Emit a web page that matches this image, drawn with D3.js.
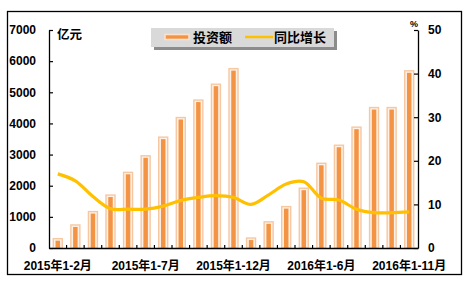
<!DOCTYPE html>
<html>
<head>
<meta charset="utf-8">
<script src="https://cdn.jsdelivr.net/npm/d3@7"></script>
<style>
  body { margin: 0; background: #fff; }
  text { font-family: "Liberation Sans", Arial, "Noto Sans CJK SC", sans-serif; font-weight: bold; fill: #000; }
</style>
</head>
<body>
<div id="vis"></div>
<script>
// categories (months, cumulative)
var months = ['2015年1-2月','2015年1-3月','2015年1-4月','2015年1-5月','2015年1-6月','2015年1-7月',
              '2015年1-8月','2015年1-9月','2015年1-10月','2015年1-11月','2015年1-12月',
              '2016年1-2月','2016年1-3月','2016年1-4月','2016年1-5月','2016年1-6月',
              '2016年1-7月','2016年1-8月','2016年1-9月','2016年1-10月','2016年1-11月'];
// investment, 亿元
var invest = [300, 740, 1170, 1700, 2430, 2960, 3560, 4190, 4750, 5260, 5760,
              320, 840, 1330, 1920, 2720, 3300, 3880, 4510, 4510, 5690];
// year-on-year growth, %
var growth = [17.0, 15.4, 11.8, 9.0, 8.9, 8.9, 9.6, 10.9, 11.6, 12.0, 11.6,
              10.0, 12.2, 14.7, 15.2, 11.4, 11.0, 8.9, 8.1, 8.1, 8.3];
var leftTicks = [0, 1000, 2000, 3000, 4000, 5000, 6000, 7000];
var rightTicks = [0, 10, 20, 30, 40, 50];
var shownLabels = ['2015年1-2月','2015年1-7月','2015年1-12月','2016年1-6月','2016年1-11月'];

var svg = d3.select('#vis').append('svg')
    .attr('width', 469)
    .attr('height', 285);

// outer frame
svg.append('rect')
  .attr('x', 7.5).attr('y', 11.5)
  .attr('width', 454).attr('height', 263)
  .attr('fill', 'none').attr('stroke', '#000').attr('stroke-width', 1.3);

var pL = 49, pR = 418, pT = 30, pB = 248;

var x = d3.scaleBand().domain(months).range([pL, pR]).padding(0);
var y = d3.scaleLinear().domain([0, 7000]).range([pB, pT]);
var y2 = d3.scaleLinear().domain([0, 50]).range([pB, pT]);

// bars: pale outer box with orange core
var bw = 9, cw = 4.5;
var bars = svg.append('g');
bars.selectAll('rect.outer').data(invest).enter().append('rect')
  .attr('class', 'outer')
  .attr('x', (d, i) => x(months[i]) + x.bandwidth() / 2 - bw / 2)
  .attr('y', d => y(d))
  .attr('width', bw)
  .attr('height', d => pB - y(d))
  .attr('fill', '#fdf0e6')
  .attr('stroke', '#f6c8a2')
  .attr('stroke-width', 1.4);
bars.selectAll('rect.inner').data(invest).enter().append('rect')
  .attr('class', 'inner')
  .attr('x', (d, i) => x(months[i]) + x.bandwidth() / 2 - cw / 2)
  .attr('y', d => y(d) + 2)
  .attr('width', cw)
  .attr('height', d => Math.max(0, pB - y(d) - 2))
  .attr('fill', '#f39445');

// growth line
var line = d3.line()
  .x((d, i) => x(months[i]) + x.bandwidth() / 2)
  .y(d => y2(d))
  .curve(d3.curveCatmullRom.alpha(0.5));
svg.append('path')
  .datum(growth)
  .attr('d', line)
  .attr('fill', 'none')
  .attr('stroke', '#ffc000')
  .attr('stroke-width', 3.2);

// left axis
var yAxis = d3.axisLeft(y).tickValues(leftTicks).tickFormat(d3.format('d'))
  .tickSizeInner(-4).tickSizeOuter(0).tickPadding(13);
var gl = svg.append('g').attr('transform', 'translate(' + pL + ',0)').call(yAxis);
// right axis
var y2Axis = d3.axisRight(y2).tickValues(rightTicks).tickFormat(d3.format('d'))
  .tickSizeInner(-4).tickSizeOuter(0).tickPadding(10);
var gr = svg.append('g').attr('transform', 'translate(' + pR + ',0)').call(y2Axis);

[gl, gr].forEach(function(g) {
  g.select('.domain').attr('stroke', '#000').attr('stroke-width', 1.3);
  g.selectAll('.tick line').attr('stroke', '#000').attr('stroke-width', 1.2);
  g.selectAll('.tick text').style('font-size', '12px').attr('fill', '#000');
});

// bottom axis
var xAxis = d3.axisBottom(x).tickSize(0).tickPadding(13)
  .tickFormat(d => shownLabels.indexOf(d) >= 0 ? d : '');
var gb = svg.append('g').attr('transform', 'translate(0,' + pB + ')').call(xAxis);
gb.select('.domain').attr('stroke', '#000').attr('stroke-width', 1.3);
gb.selectAll('.tick text').style('font-size', '12px').attr('fill', '#000');
// band boundary ticks
gb.selectAll('line.bt').data(months.slice(1)).enter().append('line')
  .attr('class', 'bt')
  .attr('x1', d => x(d)).attr('x2', d => x(d))
  .attr('y1', -3).attr('y2', 1)
  .attr('stroke', '#000').attr('stroke-width', 1.2);

// units
svg.append('text').attr('x', 57).attr('y', 39).style('font-size', '12.5px').text('亿元');
svg.append('text').attr('x', 410).attr('y', 27).style('font-size', '9px').text('%');

// legend
var lg = svg.append('g').attr('transform', 'translate(151,28)');
lg.append('rect').attr('x', 3).attr('y', 3).attr('width', 183).attr('height', 19).attr('fill', '#8c8c8c');
lg.append('rect').attr('x', 0).attr('y', 0).attr('width', 183).attr('height', 19).attr('fill', '#d9d9d9');
lg.append('rect').attr('x', 14).attr('y', 6.5).attr('width', 24).attr('height', 5)
  .attr('fill', '#f39445').attr('stroke', '#fbe0cb').attr('stroke-width', 1.6);
lg.append('text').attr('x', 42).attr('y', 14).style('font-size', '13px').text('投资额');
lg.append('line').attr('x1', 94).attr('x2', 122).attr('y1', 9).attr('y2', 9)
  .attr('stroke', '#ffc000').attr('stroke-width', 2.5);
lg.append('text').attr('x', 123).attr('y', 14).style('font-size', '13px').text('同比增长');
</script>
</body>
</html>
